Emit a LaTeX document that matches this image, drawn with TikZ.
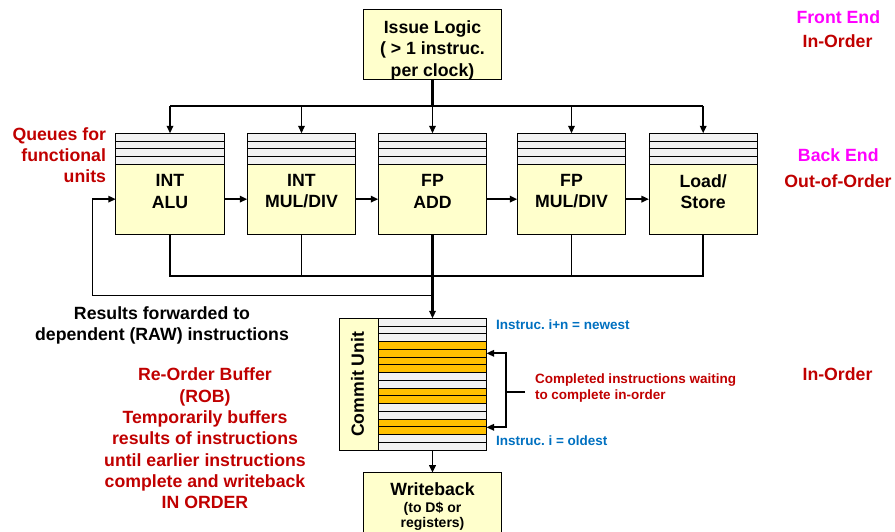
\documentclass[tikz,border=0pt]{standalone}
\usepackage{fontspec}
\setmainfont{Liberation Sans}
\usetikzlibrary{arrows.meta,calc}
\frenchspacing
\definecolor{boxyellow}{HTML}{FFFFCC}
\definecolor{qgray}{HTML}{F2F2F2}
\definecolor{robor}{HTML}{FFC000}
\definecolor{darkred}{HTML}{C00000}
\definecolor{magentat}{HTML}{FF00FF}
\definecolor{bluet}{HTML}{0070C0}
\newcommand{\fbig}{\fontsize{17.7}{21.3}\selectfont\bfseries}
\newcommand{\fsmall}{\fontsize{13.5}{15.7}\selectfont\bfseries}
\newcommand{\fmid}{\fontsize{14}{15.5}\selectfont\bfseries}
\begin{document}
\begin{tikzpicture}[x=1pt,y=-1pt,
  every node/.style={inner sep=0pt, outer sep=0pt},
  box/.style={draw=black, line width=0.9pt, fill=boxyellow},
  unitbox/.style={box, minimum width=108.5pt, minimum height=69.7pt},
  queue/.style={draw=black, line width=0.9pt, fill=qgray, minimum width=108.5pt, minimum height=31pt,
    path picture={\foreach \k in {1,2,3}{\draw[line width=0.9pt]
      ($(path picture bounding box.north west)!\k/4!(path picture bounding box.south west)$) -- ++(120pt,0pt);}}},
  conn/.style={line width=1.7pt, draw=black, line join=miter},
  tip/.style={-{Triangle[length=7.5pt,width=6.5pt]}},
  bigtext/.style={font=\fbig, align=center},
  redtext/.style={font=\fbig, text=darkred},
]
\useasboundingbox (0,0) rectangle (895,532);
\clip (0,0) rectangle (895,532);

% Issue logic
\node[box, minimum width=138.4pt, minimum height=69.7pt] (issue) at (432.5,44.15) {};
\node[bigtext] (issuetxt) at (432.5,50.2) {Issue Logic\\( > 1 instruc.\\per clock)};

% functional units
\node[unitbox] (alu) at (170,199.15) {};
\node[unitbox] (mul) at (301.5,199.15) {};
\node[unitbox] (fpadd) at (432.5,199.15) {};
\node[unitbox] (fpmul) at (571.5,199.15) {};
\node[unitbox] (ls) at (703.2,199.15) {};
\foreach \u in {alu,mul,fpadd,fpmul,ls}
  \node[queue, anchor=south] (q\u) at (\u.north) {};
\node[bigtext] (alutxt) at (170,191.4) {INT\\ALU};
\node[bigtext] (multxt) at (301.5,191.4) {INT\\MUL/DIV};
\node[bigtext] (fpaddtxt) at (432.5,191.4) {FP\\ADD};
\node[bigtext] (fpmultxt) at (571.5,191.4) {FP\\MUL/DIV};
\node[bigtext] (lstxt) at (703.2,191.4) {Load/\\Store};

% issue bus
\coordinate (bus) at (432.5,106);
\draw[conn, line width=2.2pt] (issue.south) -- (bus);
\draw[conn, line width=2pt] (qalu.north |- bus) -- (qls.north |- bus);
\foreach \u in {alu,mul,fpadd,fpmul,ls}
  \draw[conn, tip] (q\u.north |- bus) -- (q\u.north);

% horizontal arrows between units
\draw[conn, tip] (alu.east) -- (mul.west);
\draw[conn, tip] (mul.east) -- (fpadd.west);
\draw[conn, tip] (fpadd.east) -- (fpmul.west);
\draw[conn, tip] (fpmul.east) -- (ls.west);

% ROB stripes
\foreach \i/\c in {0/qgray,1/qgray,2/qgray,3/robor,4/robor,5/robor,6/robor,7/qgray,8/qgray,9/robor,10/robor,11/qgray,12/qgray,13/robor,14/robor,15/qgray,16/qgray}
  \filldraw[fill=\c, draw=black, line width=0.9pt] (378.5,{318.3+7.75*\i}) rectangle (486.5,{318.3+7.75*(\i+1)});
\node[draw=black, line width=0.9pt, minimum width=108pt, minimum height=131.75pt] (rob) at (432.5,384.18) {};
\node[box, minimum width=39.2pt, minimum height=131.75pt] (commit) at (358.9,384.18) {};
\node[font=\fbig, rotate=90] (committxt) at (357.5,384.2) {Commit Unit};

% results bus
\coordinate (bot) at (432.5,276);
\draw[conn] (alu.south) -- (alu.south |- bot) -- (ls.south |- bot) -- (ls.south);
\draw[conn] (mul.south) -- (mul.south |- bot);
\draw[conn] (fpmul.south) -- (fpmul.south |- bot);
\draw[conn, line width=2.6pt, tip] (fpadd.south) -- (rob.north);

% forwarding loop
\coordinate (fb) at (432.5,295.7);
\coordinate (fbl) at (92.3,295.7);
\draw[conn, line width=1.5pt, tip] (fb) -- (fbl) -- (fbl |- alu.west) -- (alu.west);

% writeback
\node[box, minimum width=138.4pt, minimum height=70pt, anchor=north] (wb) at (432.5,472.7) {};
\draw[conn, tip] (rob.south) -- (wb.north);
\node[font=\fbig, anchor=base] (wbt) at (432.5,495) {Writeback};
\node[font=\fmid, align=center] (wbs) at (432.5,516.4) {(to D\$ or\\registers)};

% bracket
\coordinate (brt) at (505.7,353.3);
\coordinate (brb) at (505.7,427.3);
\coordinate (brm) at (505.7,392.3);
\coordinate (brs) at (525,392.3);
\draw[conn] (brs) -- (brm);
\draw[conn, tip] (brm) -- (brt) -- (brt -| rob.east);
\draw[conn, tip] (brm) -- (brb) -- (brb -| rob.east);

% labels
\node[redtext, align=right, anchor=east] (qlbl) at (106,155) {Queues for\\functional\\units};
\node[bigtext] (restxt) at (162,325.7) {Results forwarded to\\dependent (RAW) instructions};
\node[redtext, align=center] (robtxt) at (205,438.4) {Re-Order Buffer\\(ROB)\\Temporarily buffers\\results of instructions\\until earlier instructions\\complete and writeback\\IN ORDER};
\node[font=\fsmall, text=bluet, anchor=base west] (newest) at (496,329.3) {Instruc. i+n = newest};
\node[font=\fsmall, text=bluet, anchor=base west] (oldest) at (496,445) {Instruc. i = oldest};
\node[font=\fsmall, text=darkred, align=left, anchor=west] (compl) at (535,387.7) {Completed instructions waiting\\to complete in-order};

\node[font=\fbig, text=magentat, anchor=base] (fe) at (838.3,24) {Front End};
\node[redtext, anchor=base] (io1) at (837.5,47.3) {In-Order};
\node[font=\fbig, text=magentat, anchor=base] (be) at (838.3,161.7) {Back End};
\node[redtext, anchor=base] (ooo) at (838,187.3) {Out-of-Order};
\node[redtext, anchor=base] (io2) at (837.5,380) {In-Order};
\end{tikzpicture}
\end{document}
